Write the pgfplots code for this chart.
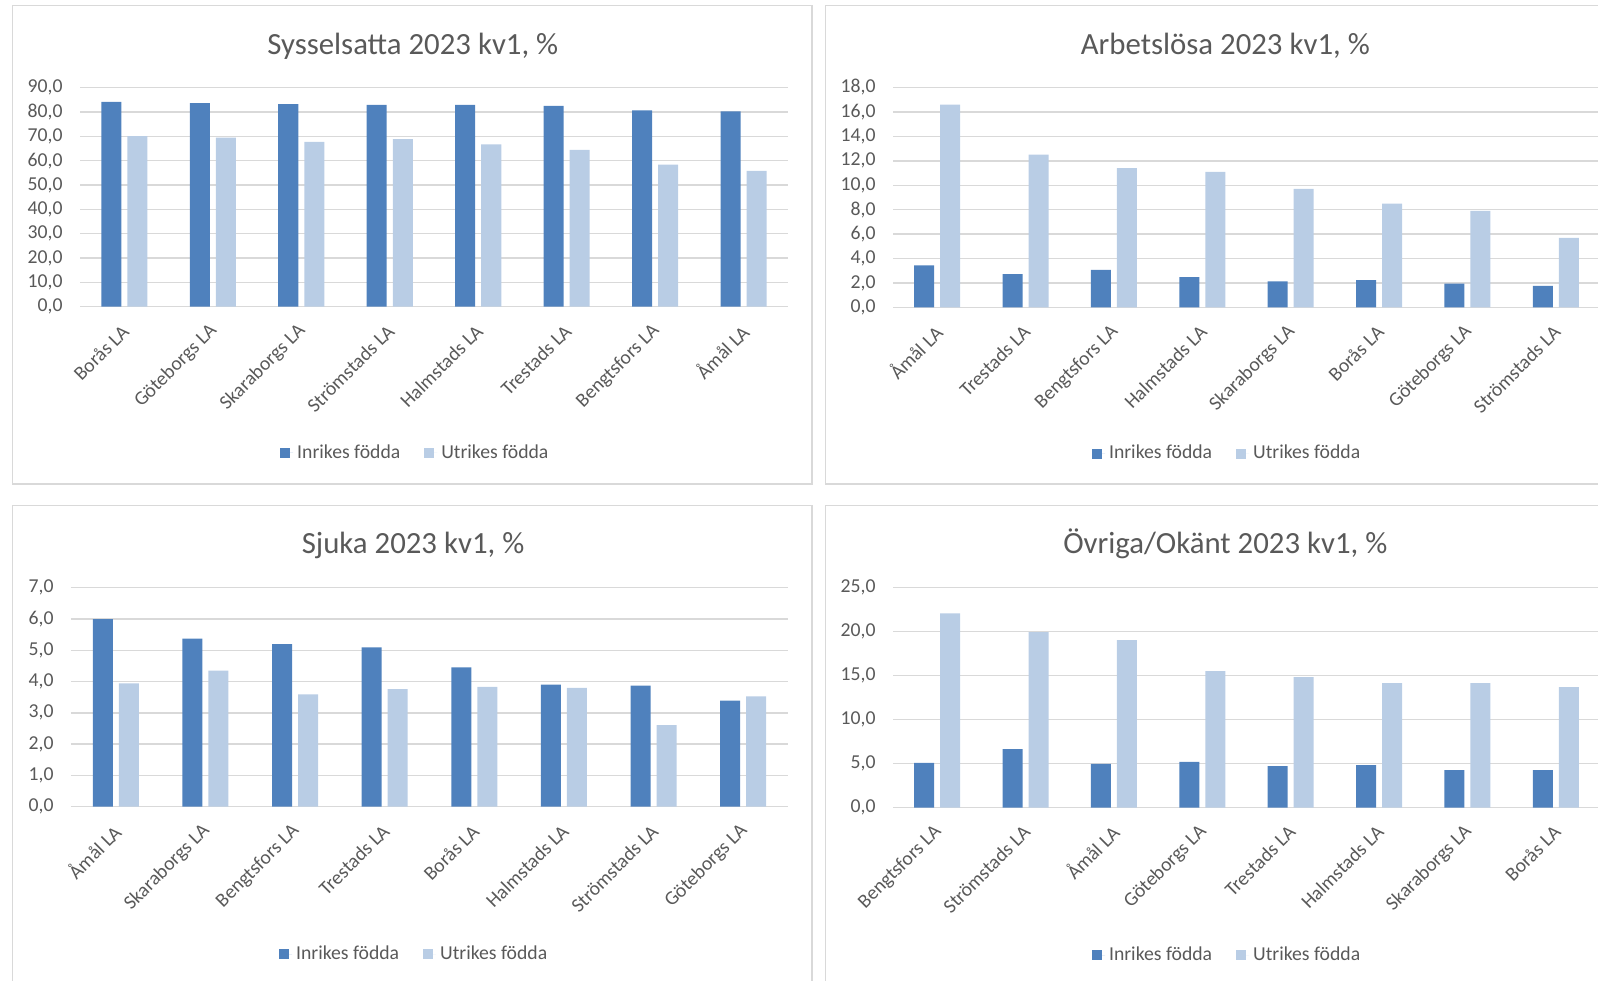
\documentclass[border=0pt]{standalone}
\usepackage{pgfplots}
\pgfplotsset{compat=1.18}
\usepackage{fontspec}
\setmainfont{Carlito}
\definecolor{darkbar}{RGB}{79,129,189}
\definecolor{lightbar}{RGB}{185,205,229}
\definecolor{gridgray}{RGB}{217,217,217}
\definecolor{textgray}{RGB}{89,89,89}
\pgfplotsset{
  panel/.style={
    scale only axis, ybar=3pt, bar width=10pt,
    ymin=0, xmin=-0.5, xmax=7.5, xtick={0,...,7},
    axis line style={draw=none}, major tick length=0pt,
    ymajorgrids, grid style={color=gridgray, line width=0.75pt},
    tick label style={font=\fontsize{9.85}{11}\selectfont, color=textgray},
    yticklabel style={inner sep=0pt, xshift=-8.5pt},
    xticklabel style={rotate=45, anchor=east, inner sep=0pt, xshift=-7pt, yshift=-8pt},
    /pgf/number format/fixed, /pgf/number format/fixed zerofill,
    /pgf/number format/precision=1, /pgf/number format/use comma,
    /pgf/number format/assume math mode=true,
    legend style={draw=none, fill=none, legend columns=2, anchor=center,
      font=\fontsize{9.85}{11}\selectfont, text=textgray,
      /tikz/every even column/.append style={column sep=10pt}},
    legend image code/.code={\path (0pt,0pt) -- (6.5pt,0pt); \fill[##1] (0pt,-2.5pt) rectangle (5pt,2.5pt);},
    title style={font=\fontsize{15.4}{18}\selectfont, color=textgray, anchor=center},
  },
  inr/.style={fill=darkbar, draw=none},
  utr/.style={fill=lightbar, draw=none},
}
\begin{document}
\begin{tikzpicture}
\path[use as bounding box] (0,0) rectangle (799pt,490pt);
\clip (0,0) rectangle (799pt,490pt);
\draw[gridgray, line width=0.7pt] (6.35pt,487.15pt) rectangle (406pt,248pt);
\draw[gridgray, line width=0.7pt] (412.85pt,487.15pt) rectangle (815pt,248pt);
\draw[gridgray, line width=0.7pt] (6.35pt,237.15pt) rectangle (406pt,-10pt);
\draw[gridgray, line width=0.7pt] (412.85pt,237.15pt) rectangle (815pt,-10pt);

% Sysselsatta
\begin{axis}[panel, at={(40pt,336.65pt)}, anchor=south west, width=354pt, height=109.5pt,
  ymax=90, ytick={0,10,...,90},
  xticklabels={Borås LA,Göteborgs LA,Skaraborgs LA,Strömstads LA,Halmstads LA,Trestads LA,Bengtsfors LA,Åmål LA},
  title={Sysselsatta 2023 kv1, \%}, title style={at={(0.47,1.134)}},
  legend style={at={(0.475,-0.668)}}]
\addplot[inr] coordinates {(0,84.2) (1,83.7) (2,83.3) (3,82.9) (4,82.9) (5,82.5) (6,80.7) (7,80.3)};
\addplot[utr] coordinates {(0,70.1) (1,69.5) (2,67.7) (3,68.9) (4,66.7) (5,64.5) (6,58.4) (7,55.8)};
\legend{Inrikes födda, Utrikes födda}
\end{axis}

% Arbetslösa
\begin{axis}[panel, at={(446.5pt,336.25pt)}, anchor=south west, width=353.5pt, height=110pt,
  ymax=18, ytick={0,2,...,18},
  xticklabels={Åmål LA,Trestads LA,Bengtsfors LA,Halmstads LA,Skaraborgs LA,Borås LA,Göteborgs LA,Strömstads LA},
  title={Arbetslösa 2023 kv1, \%}, title style={at={(0.47,1.136)}},
  legend style={at={(0.474,-0.664)}}]
\addplot[inr] coordinates {(0,3.44) (1,2.73) (2,3.08) (3,2.48) (4,2.13) (5,2.24) (6,1.96) (7,1.77)};
\addplot[utr] coordinates {(0,16.6) (1,12.5) (2,11.4) (3,11.1) (4,9.7) (5,8.5) (6,7.9) (7,5.7)};
\legend{Inrikes födda, Utrikes födda}
\end{axis}

% Sjuka
\begin{axis}[panel, at={(35.5pt,86.65pt)}, anchor=south west, width=358.5pt, height=109.5pt,
  ymax=7, ytick={0,1,...,7},
  xticklabels={Åmål LA,Skaraborgs LA,Bengtsfors LA,Trestads LA,Borås LA,Halmstads LA,Strömstads LA,Göteborgs LA},
  title={Sjuka 2023 kv1, \%}, title style={at={(0.477,1.138)}},
  legend style={at={(0.48,-0.674)}}]
\addplot[inr] coordinates {(0,6.0) (1,5.37) (2,5.2) (3,5.09) (4,4.45) (5,3.9) (6,3.87) (7,3.39)};
\addplot[utr] coordinates {(0,3.94) (1,4.35) (2,3.59) (3,3.76) (4,3.83) (5,3.80) (6,2.61) (7,3.53)};
\legend{Inrikes födda, Utrikes födda}
\end{axis}

% Övriga/Okänt
\begin{axis}[panel, at={(446.5pt,86.25pt)}, anchor=south west, width=353.5pt, height=110pt,
  ymax=25, ytick={0,5,...,25},
  xticklabels={Bengtsfors LA,Strömstads LA,Åmål LA,Göteborgs LA,Trestads LA,Halmstads LA,Skaraborgs LA,Borås LA},
  title={Övriga/Okänt 2023 kv1, \%}, title style={at={(0.47,1.144)}},
  legend style={at={(0.474,-0.672)}}]
\addplot[inr] coordinates {(0,5.08) (1,6.63) (2,4.96) (3,5.19) (4,4.70) (5,4.81) (6,4.24) (7,4.24)};
\addplot[utr] coordinates {(0,22.05) (1,19.92) (2,19.02) (3,15.49) (4,14.81) (5,14.13) (6,14.13) (7,13.67)};
\legend{Inrikes födda, Utrikes födda}
\end{axis}
\end{tikzpicture}
\end{document}
